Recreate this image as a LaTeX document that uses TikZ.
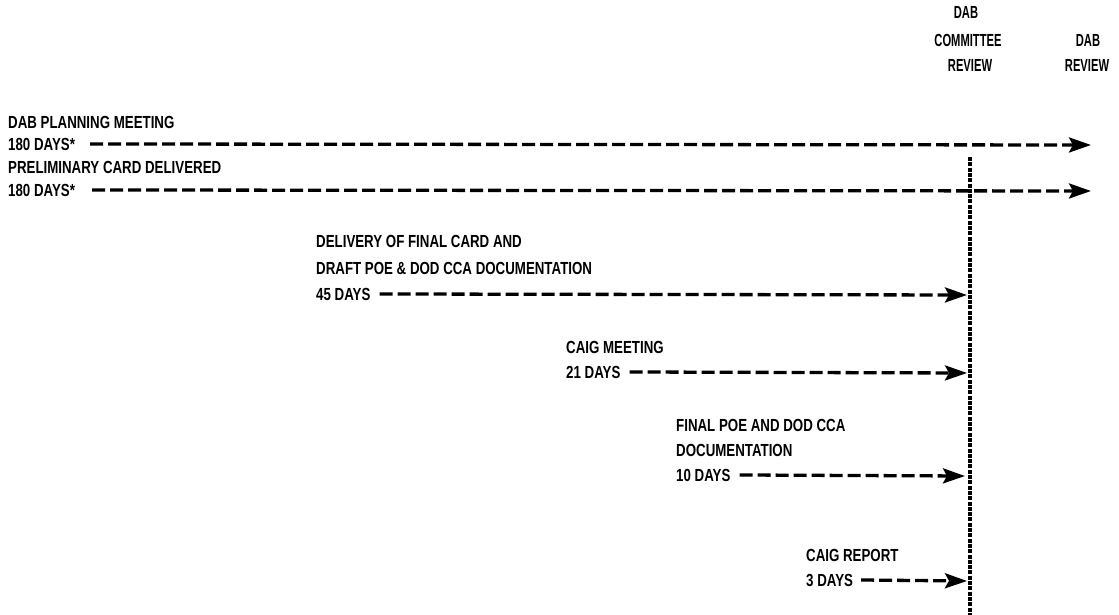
\documentclass[tikz,border=0pt]{standalone}
\usepackage{fontspec}
\setmainfont{Liberation Sans}[FakeStretch=0.76]
\newfontfamily\hdrfont{Liberation Sans}[FakeStretch=0.64]
\usetikzlibrary{arrows.meta}
\begin{document}
\begin{tikzpicture}[x=1pt,y=-1pt,
  lbl/.style={anchor=base west, inner sep=0pt, font=\fontsize{17.5}{20}\selectfont\bfseries},
  hdr/.style={anchor=base, inner sep=0pt, font=\hdrfont\fontsize{17.5}{20}\selectfont\bfseries},
  days/.style={lbl},
  flow/.style={line width=3.3pt, dash pattern=on 13pt off 5pt,
    -{Stealth[length=22pt,width=15pt,inset=4pt]}},
  review/.style={line width=3.3pt, dash pattern=on 4pt off 1.3pt}]
\useasboundingbox (0,0) rectangle (1119,615);
% headers
\node[hdr] (h1) at (966,19) {DAB};
\node[hdr] (h2) at (968,47) {COMMITTEE};
\node[hdr] (h3) at (970,72) {REVIEW};
\node[hdr] (h4) at (1088,47) {DAB};
\node[hdr] (h5) at (1087,72) {REVIEW};
% review line
\coordinate (rtop) at (970,157);
\coordinate (rbot) at (970,615);
\draw[review] (rtop) -- (rbot);
% targets
\coordinate (t1) at (1091,145);
\coordinate (t2) at (1091,191);
\coordinate (t3) at (967,295);
\coordinate (t4) at (967,373);
\coordinate (t5) at (965,476);
\coordinate (t6) at (967,581);
% 1
\node[lbl] (a1) at (8,129) {DAB PLANNING MEETING};
\node[days] (d1) at (8,150) {180 DAYS*};
\draw[flow] ([xshift=15pt]d1.east) -- (t1);
% 2
\node[lbl] (a2) at (8,173) {PRELIMINARY CARD DELIVERED};
\node[days] (d2) at (8,196) {180 DAYS*};
\draw[flow] ([xshift=17pt]d2.east) -- (t2);
% 3
\node[lbl] (a3) at (316,247) {DELIVERY OF FINAL CARD AND};
\node[lbl] (b3) at (316,274) {DRAFT POE \& DOD CCA DOCUMENTATION};
\node[days] (d3) at (316,300) {45 DAYS};
\draw[flow] ([xshift=9pt]d3.east) -- (t3);
% 4
\node[lbl] (a4) at (566,353) {CAIG MEETING};
\node[days] (d4) at (566,378) {21 DAYS};
\draw[flow] ([xshift=9pt]d4.east) -- (t4);
% 5
\node[lbl] (a5) at (676,431) {FINAL POE AND DOD CCA};
\node[lbl] (b5) at (676,456) {DOCUMENTATION};
\node[days] (d5) at (676,481) {10 DAYS};
\draw[flow] ([xshift=9pt]d5.east) -- (t5);
% 6
\node[lbl] (a6) at (806,561) {CAIG REPORT};
\node[days] (d6) at (806,586) {3 DAYS};
\draw[flow] ([xshift=8pt]d6.east) -- (t6);
\end{tikzpicture}
\end{document}
